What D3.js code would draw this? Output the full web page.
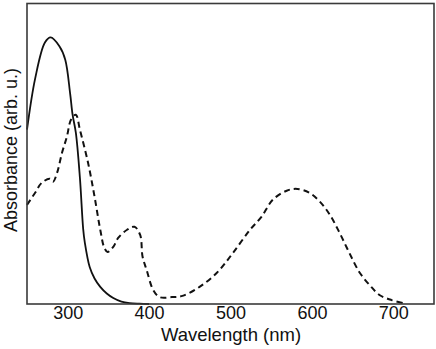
<!DOCTYPE html>
<html>
<head>
<meta charset="utf-8">
<script src="https://d3js.org/d3.v7.min.js"></script>
<style>
body { margin: 0; background: #fff; }
text { font-family: "Liberation Sans", Arial, sans-serif; }
</style>
</head>
<body>
<div id="chart"></div>
<script>
// wavelength (nm) / absorbance (arb. u.)
var solid_nm  = [250, 260, 272, 279, 290, 297, 303, 306, 310, 315, 319, 321, 327, 333, 340, 348, 356, 366, 376, 388, 400];
var solid_abs = [0.58, 0.75, 0.87, 0.887, 0.857, 0.813, 0.70, 0.63, 0.57, 0.42, 0.25, 0.205, 0.123, 0.085, 0.057, 0.035, 0.02, 0.008, 0.003, 0.001, 0];

var dash_nm  = [250, 260, 268, 278, 282, 287, 293, 299, 304, 310, 315, 325, 333, 340, 345, 349, 356, 362, 373, 382, 389, 392, 397, 405, 413, 428, 441, 462, 483, 503, 524, 538, 552, 569, 582, 597, 610, 622, 634, 646, 659, 671, 683, 698, 712];
var dash_abs = [0.33, 0.37, 0.403, 0.417, 0.407, 0.437, 0.503, 0.557, 0.613, 0.63, 0.58, 0.47, 0.357, 0.247, 0.187, 0.173, 0.19, 0.22, 0.247, 0.257, 0.23, 0.157, 0.113, 0.047, 0.023, 0.023, 0.027, 0.057, 0.103, 0.17, 0.247, 0.29, 0.347, 0.377, 0.383, 0.37, 0.34, 0.297, 0.237, 0.17, 0.103, 0.063, 0.03, 0.013, 0.003];

var x_ticks = [300, 400, 500, 600, 700];

var width = 436, height = 349;
var margin = {left: 27, right: 2, top: 3.5, bottom: 45};

var svg = d3.select("#chart").append("svg")
	.attr("width", width).attr("height", height);

var x = d3.scaleLinear().domain([250, 750])
	.range([margin.left, width - margin.right]);
var y = d3.scaleLinear().domain([0, 1])
	.range([height - margin.bottom, margin.top]);

function make_line(xs, ys){
	return d3.line()
		.x(function (d, i) { return x(xs[i]); })
		.y(function (d, i) { return y(ys[i]); })
		.curve(d3.curveCatmullRom.alpha(0.5))(xs);
}

// curves
svg.append("path").attr("d", make_line(dash_nm, dash_abs))
	.attr("fill", "none").attr("stroke", "#111").attr("stroke-width", 2)
	.attr("stroke-dasharray", "6,4");

svg.append("path").attr("d", make_line(solid_nm, solid_abs))
	.attr("fill", "none").attr("stroke", "#111").attr("stroke-width", 1.8);

// frame
svg.append("rect")
	.attr("x", margin.left).attr("y", margin.top)
	.attr("width", width - margin.right - margin.left)
	.attr("height", height - margin.bottom - margin.top)
	.attr("fill", "none").attr("stroke", "#3a3a3a").attr("stroke-width", 1.6);

// x axis, labels only
var x_axis = svg.append("g")
	.attr("transform", "translate(0," + (height - margin.bottom) + ")")
	.call(d3.axisBottom(x).tickValues(x_ticks).tickSize(0).tickPadding(0));
x_axis.select(".domain").remove();
x_axis.selectAll("text").attr("font-size", 18).attr("fill", "#111")
	.attr("dy", null).attr("y", 15)
	.style("font-family", "'Liberation Sans', Arial, sans-serif");

svg.append("text")
	.attr("x", 231).attr("y", 341)
	.attr("text-anchor", "middle").attr("font-size", 18.5).attr("fill", "#111")
	.text("Wavelength (nm)");

svg.append("text")
	.attr("transform", "translate(17,150) rotate(-90)")
	.attr("text-anchor", "middle").attr("font-size", 18).attr("fill", "#111")
	.text("Absorbance (arb. u.)");
</script>
</body>
</html>
